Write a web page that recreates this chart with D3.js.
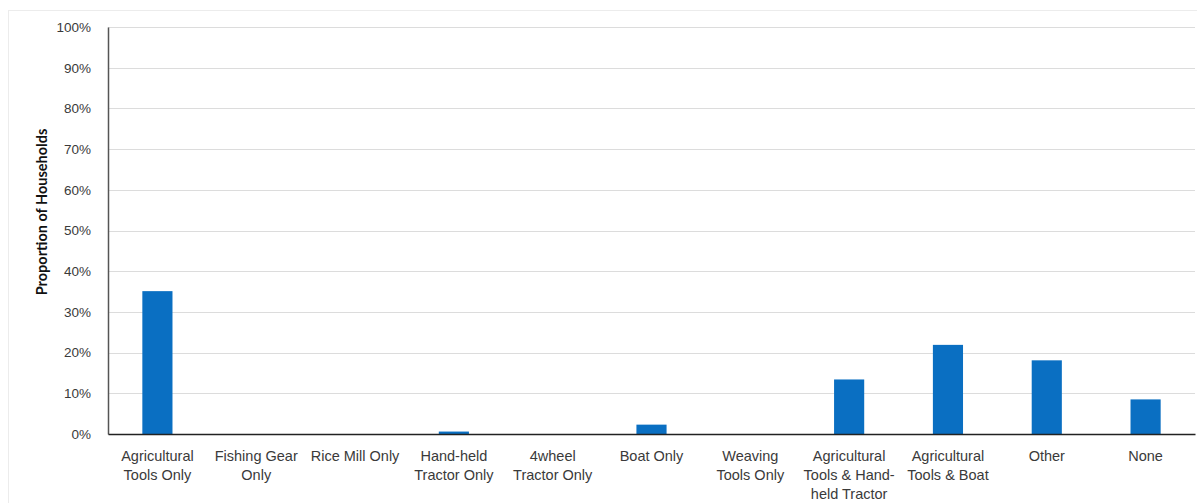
<!DOCTYPE html>
<html>
<head>
<meta charset="utf-8">
<script src="https://cdn.jsdelivr.net/npm/d3@7/dist/d3.min.js"></script>
<style>
  html, body { margin: 0; padding: 0; background: #fff; }
  svg { display: block; font-family: "Lato", "Open Sans", sans-serif; }
</style>
</head>
<body>
<svg id="chart" width="1197" height="503"></svg>
<script>
// Household asset ownership categories (two-line labels split on "|")
const categories = [
  "Agricultural|Tools Only",
  "Fishing Gear|Only",
  "Rice Mill Only",
  "Hand-held|Tractor Only",
  "4wheel|Tractor Only",
  "Boat Only",
  "Weaving|Tools Only",
  "Agricultural|Tools & Hand-|held Tractor",
  "Agricultural|Tools & Boat",
  "Other",
  "None"
];
// Proportion of households (fraction)
const proportions = [0.351, 0, 0, 0.006, 0, 0.023, 0, 0.134, 0.219, 0.181, 0.085];
const yTicks = [0, 0.1, 0.2, 0.3, 0.4, 0.5, 0.6, 0.7, 0.8, 0.9, 1.0];
const yTitle = "Proportion of Households";

const svg = d3.select("#chart");
const margin = { left: 108, right: 2, top: 27, bottom: 69 };
const W = 1197, H = 503;

// faint outer frame of the chart area
svg.append("rect")
  .attr("x", 8.5).attr("y", 10.5)
  .attr("width", W - 8).attr("height", H)
  .attr("fill", "none").attr("stroke", "#ececec");

const x = d3.scaleBand()
  .domain(categories)
  .range([margin.left, W - margin.right])
  .paddingInner(0.695).paddingOuter(0.3475);

const y = d3.scaleLinear()
  .domain([0, 1])
  .range([H - margin.bottom, margin.top]);

// horizontal gridlines
svg.append("g")
  .selectAll("line")
  .data(yTicks.filter(t => t > 0))
  .join("line")
  .attr("x1", margin.left).attr("x2", W - margin.right)
  .attr("y1", d => Math.round(y(d)) + 0.5).attr("y2", d => Math.round(y(d)) + 0.5)
  .attr("stroke", "#dcdcdc").attr("stroke-width", 1);

// y axis
const yAxis = svg.append("g")
  .attr("transform", `translate(${margin.left},0)`)
  .call(d3.axisLeft(y).tickValues(yTicks).tickFormat(d3.format(".0%")).tickSize(0).tickPadding(17));
yAxis.select(".domain").attr("stroke", "#555").attr("stroke-width", 1.5);
yAxis.selectAll("text")
  .attr("fill", "#3a3a3a").attr("font-size", "13.5px");

// bars
svg.append("g")
  .selectAll("rect")
  .data(categories.map((c, i) => ({ c, v: proportions[i] })))
  .join("rect")
  .attr("x", d => x(d.c))
  .attr("width", x.bandwidth())
  .attr("y", d => y(d.v))
  .attr("height", d => y(0) - y(d.v))
  .attr("fill", "#0a6fc2");

// x axis
const xAxis = svg.append("g")
  .attr("transform", `translate(0,${y(0)})`)
  .call(d3.axisBottom(x).tickSize(0).tickPadding(0).tickFormat(""));
xAxis.select(".domain").attr("stroke", "#222").attr("stroke-width", 1.5);

// multi-line category labels
xAxis.selectAll(".tick").each(function(d) {
  const t = d3.select(this).append("text")
    .attr("fill", "#3a3a3a")
    .attr("font-size", "14.5px")
    .attr("text-anchor", "middle")
    .attr("y", 27);
  d.split("|").forEach((line, i) => {
    t.append("tspan").attr("x", 0).attr("dy", i === 0 ? 0 : 19).text(line);
  });
});

// y axis title
svg.append("text")
  .attr("transform", "translate(47,212) rotate(-90)")
  .attr("text-anchor", "middle")
  .attr("font-weight", "bold")
  .attr("font-size", "14.5px")
  .attr("fill", "#111")
  .text(yTitle);
</script>
</body>
</html>
